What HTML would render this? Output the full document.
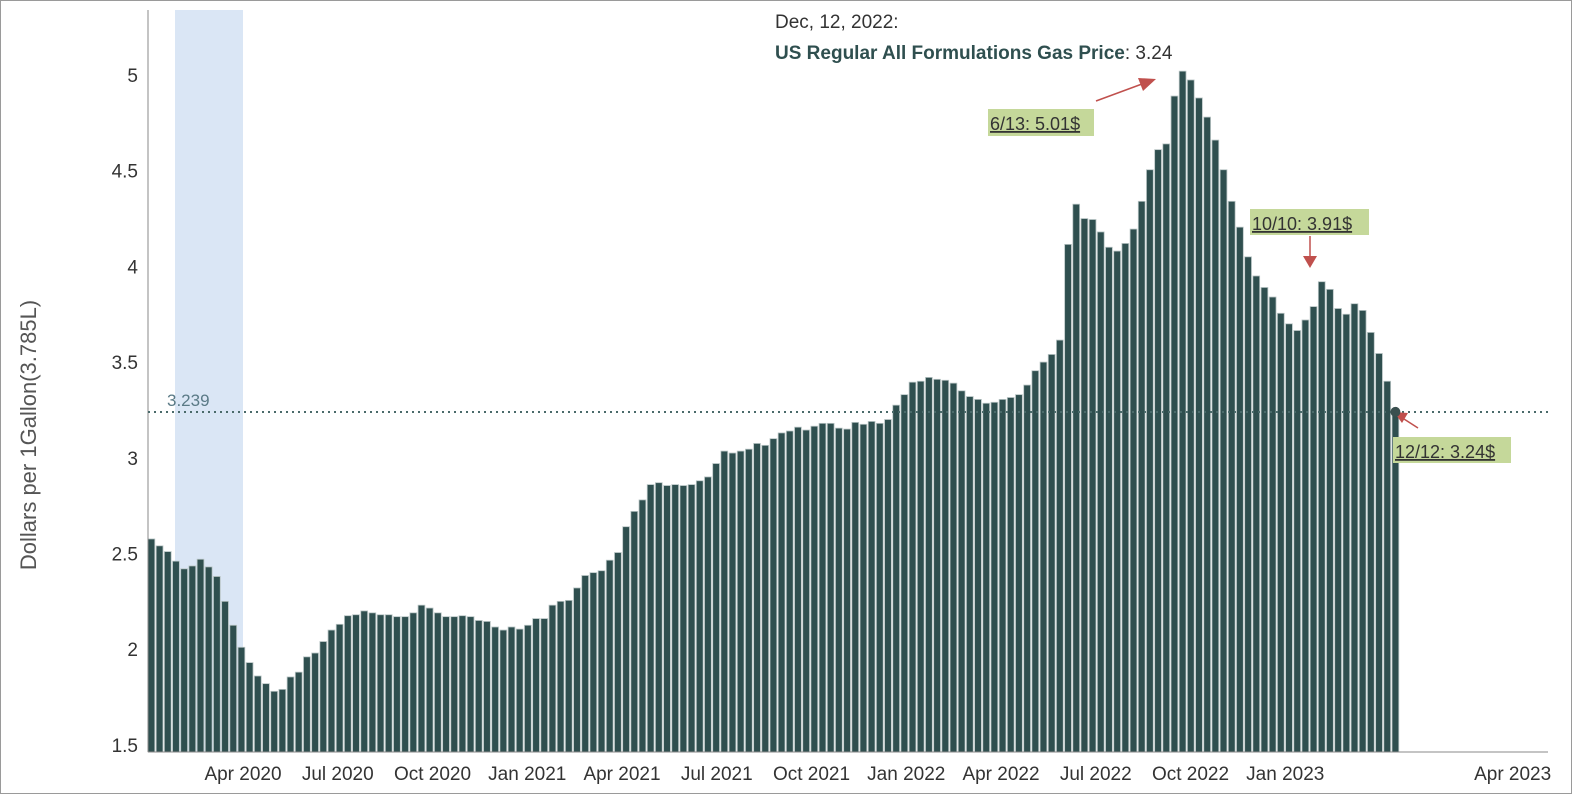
<!DOCTYPE html>
<html><head><meta charset="utf-8"><style>
html,body{margin:0;padding:0;background:#fff;}
svg{display:block;font-family:"Liberation Sans",Arial,sans-serif;}
</style></head><body>
<svg id="chart" width="1572" height="794" viewBox="0 0 1572 794">
<rect x="0.5" y="0.5" width="1571" height="793" fill="#fff" stroke="#9a9a9a"/>
<rect x="175" y="10" width="68" height="742" fill="#dae6f5"/>
<g id="bars"></g>
<g id="yticks"></g>
<g id="xticks"></g>
<line x1="148" y1="10" x2="148" y2="752" stroke="#888"/>
<line x1="148" y1="752" x2="1548" y2="752" stroke="#888"/>
<line id="refline" x1="148" x2="1548" stroke="#4a6a6a" stroke-width="2" stroke-dasharray="2,4"/>
<text id="reftext" x="167" font-size="17" fill="#5a7a86">3.239</text>
<text x="775" y="28" font-size="19" fill="#333">Dec, 12, 2022:</text>
<text x="775" y="59" font-size="19" fill="#333"><tspan font-weight="bold" fill="#2f4f4f">US Regular All Formulations Gas Price</tspan>: 3.24</text>
<text x="-435" y="36" transform="rotate(-90)" text-anchor="middle" font-size="22" fill="#555">Dollars per 1Gallon(3.785L)</text>
<g>
<rect x="988" y="109" width="106" height="27" fill="#c5d89a"/>
<text x="990" y="130" font-size="18" fill="#333" text-decoration="underline">6/13: 5.01$</text>
<line x1="1096" y1="101" x2="1142" y2="84" stroke="#c0504d" stroke-width="1.5"/>
<polygon points="1156,79 1138,78 1143,91" fill="#c0504d"/>
</g>
<g>
<rect x="1250" y="209" width="119" height="26" fill="#c5d89a"/>
<text x="1252" y="230" font-size="18" fill="#333" text-decoration="underline">10/10: 3.91$</text>
<line x1="1310" y1="236" x2="1310" y2="258" stroke="#c0504d" stroke-width="1.5"/>
<polygon points="1303,256 1317,256 1310,268" fill="#c0504d"/>
</g>
<g>
<rect x="1393" y="437" width="118" height="26" fill="#c5d89a"/>
<text x="1395" y="458" font-size="18" fill="#333" text-decoration="underline">12/12: 3.24$</text>
<line x1="1418" y1="428" x2="1404" y2="419" stroke="#c0504d" stroke-width="1.5"/>
<polygon points="1394,412 1408,413 1402,423" fill="#c0504d"/>
</g>
<circle id="lastdot" r="5" fill="#3a4f4f"/>
</svg>
<script>
const prices = [2.576,2.54,2.51,2.46,2.42,2.435,2.47,2.43,2.38,2.25,2.125,2.01,1.93,1.86,1.82,1.78,1.79,1.855,1.88,1.96,1.98,2.04,2.10,2.13,2.175,2.18,2.20,2.19,2.18,2.18,2.17,2.17,2.19,2.23,2.215,2.19,2.17,2.17,2.175,2.17,2.15,2.145,2.116,2.10,2.116,2.105,2.125,2.16,2.16,2.23,2.25,2.255,2.32,2.385,2.40,2.41,2.465,2.505,2.64,2.72,2.78,2.86,2.87,2.855,2.86,2.855,2.86,2.88,2.90,2.97,3.035,3.025,3.035,3.045,3.075,3.065,3.10,3.13,3.14,3.16,3.145,3.165,3.18,3.18,3.155,3.15,3.185,3.175,3.19,3.18,3.20,3.275,3.33,3.395,3.40,3.42,3.41,3.405,3.39,3.35,3.32,3.305,3.285,3.29,3.305,3.315,3.33,3.38,3.455,3.50,3.54,3.615,4.115,4.325,4.25,4.245,4.18,4.10,4.08,4.12,4.195,4.34,4.505,4.61,4.64,4.89,5.02,4.974,4.88,4.78,4.66,4.505,4.34,4.205,4.05,3.95,3.89,3.84,3.755,3.70,3.665,3.72,3.79,3.92,3.88,3.78,3.75,3.805,3.77,3.655,3.545,3.40,3.24];
const yTickValues = [1.5,2,2.5,3,3.5,4,4.5,5];
const yTickLabels = ["1.5","2","2.5","3","3.5","4","4.5","5"];
const xTickLabels = ["Apr 2020","Jul 2020","Oct 2020","Jan 2021","Apr 2021","Jul 2021","Oct 2021","Jan 2022","Apr 2022","Jul 2022","Oct 2022","Jan 2023","Apr 2023"];
const xTickQuarters = [0,1,2,3,4,5,6,7,8,9,10,11,13.4];
const refValue = 3.239;

const NS = "http://www.w3.org/2000/svg";
function y(v){ return 75 + (5 - v) * 191.4; }
function x(i){ return 148 + i * (1244 / 152); }
function xq(q){ return 243 + q * 94.75; }
const base = 752;

const bars = document.getElementById('bars');
prices.forEach((v,i)=>{
  const r = document.createElementNS(NS,'rect');
  r.setAttribute('x', x(i) - 3.4 + 3.4);
  r.setAttribute('y', y(v));
  r.setAttribute('width', 6.8);
  r.setAttribute('height', base - y(v));
  r.setAttribute('fill', '#2f4f4f');
  r.setAttribute('stroke', '#b8c4c4');
  r.setAttribute('stroke-width', '0.8');
  
  
  bars.appendChild(r);
});

const yt = document.getElementById('yticks');
yTickValues.forEach((v,i)=>{
  const t = document.createElementNS(NS,'text');
  t.setAttribute('x', 138);
  t.setAttribute('y', y(v) + 7);
  t.setAttribute('text-anchor', 'end');
  t.setAttribute('font-size', '19');
  t.setAttribute('fill', '#333');
  t.textContent = yTickLabels[i];
  
  
  yt.appendChild(t);
});

const xt = document.getElementById('xticks');
xTickLabels.forEach((s,i)=>{
  const t = document.createElementNS(NS,'text');
  t.setAttribute('x', xq(xTickQuarters[i]));
  t.setAttribute('y', 780);
  t.setAttribute('text-anchor', 'middle');
  t.setAttribute('font-size', '19');
  t.setAttribute('fill', '#333');
  t.textContent = s;
  
  
  xt.appendChild(t);
});

const rl = document.getElementById('refline');
rl.setAttribute('y1', y(refValue));
rl.setAttribute('y2', y(refValue));
document.getElementById('reftext').setAttribute('y', y(refValue) - 6);
const dot = document.getElementById('lastdot');
dot.setAttribute('cx', x(prices.length - 1) + 3.4);
dot.setAttribute('cy', y(prices[prices.length - 1]));
</script>
</body></html>
